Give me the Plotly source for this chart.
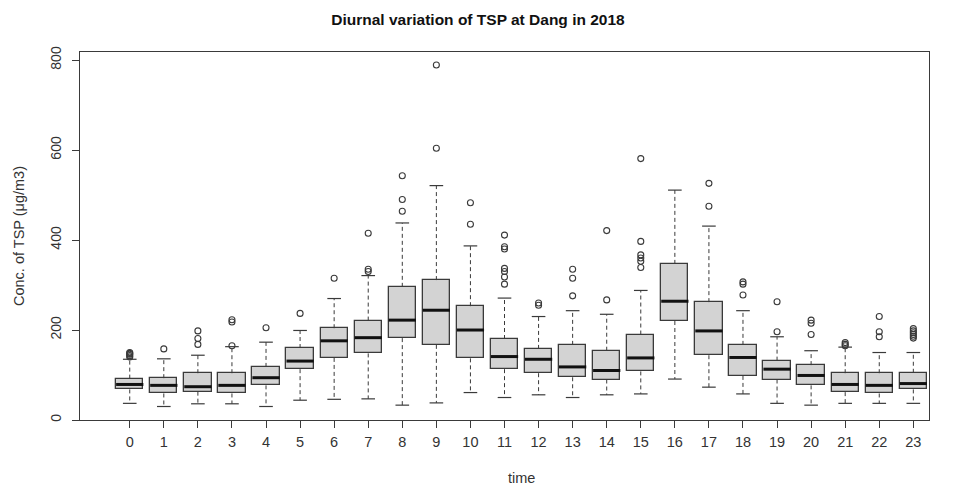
import plotly.graph_objects as go

hours = list(range(24))
tick_labels = [str(h) for h in hours]

q1 =     [68, 59, 63, 59, 77, 113, 138, 148, 182, 167, 137, 113, 104, 95, 90, 108, 220, 144, 98, 90, 77, 62, 59, 68]
median = [79, 77, 74, 77, 94, 131, 176, 183, 222, 244, 200, 141, 135, 118, 110, 138, 264, 198, 139, 113, 99, 79, 77, 81]
q3 =     [92, 93, 104, 104, 118, 160, 204, 221, 296, 311, 253, 180, 158, 167, 154, 190, 347, 262, 167, 132, 122, 104, 104, 105]
lower =  [37, 30, 36, 36, 30, 44, 46, 47, 33, 38, 61, 50, 56, 50, 56, 58, 91, 73, 58, 37, 33, 37, 37, 37]
upper =  [135, 136, 144, 163, 173, 199, 270, 321, 438, 521, 387, 271, 230, 243, 235, 288, 511, 431, 243, 185, 154, 162, 150, 150]

outliers = [
    [140, 143, 146, 148, 150],
    [158],
    [168, 181, 198],
    [165, 218, 223],
    [205],
    [237],
    [315],
    [330, 335, 415],
    [464, 490, 543],
    [604, 789],
    [435, 483],
    [302, 318, 330, 337, 380, 385, 411],
    [255, 260],
    [276, 315, 335],
    [267, 421],
    [339, 353, 360, 367, 397, 581],
    [],
    [475, 526],
    [278, 302, 307],
    [196, 263],
    [190, 215, 222],
    [165, 168, 172],
    [185, 196, 230],
    [182, 186, 190, 194, 198, 203],
]

title_text = "Diurnal variation of TSP at Dang in 2018"
x_title = "time"
y_title = "Conc. of TSP (\u03bcg/m3)"

FONT = "Liberation Sans, Arial, Helvetica, sans-serif"
EDGE = "#3a3a3a"
TEXT = "#333333"
BOX_W = 0.8
STAPLE_W = 0.4

fig = go.Figure()

# boxes (q1..q3)
fig.add_trace(go.Bar(
    x=hours, base=q1, y=[b - a for a, b in zip(q1, q3)], width=BOX_W,
    marker=dict(color="#d3d3d3", line=dict(color=EDGE, width=1.3)),
    hoverinfo="skip", showlegend=False,
))

# whiskers (dashed)
wx, wy = [], []
for h, a, b, lo, hi in zip(hours, q1, q3, lower, upper):
    wx += [h, h, None, h, h, None]
    wy += [b, hi, None, a, lo, None]
fig.add_trace(go.Scatter(x=wx, y=wy, mode="lines",
                         line=dict(color=EDGE, width=1, dash="4px,3px"),
                         hoverinfo="skip", showlegend=False))

# staples
sx, sy = [], []
for h, lo, hi in zip(hours, lower, upper):
    sx += [h - STAPLE_W / 2, h + STAPLE_W / 2, None, h - STAPLE_W / 2, h + STAPLE_W / 2, None]
    sy += [hi, hi, None, lo, lo, None]
fig.add_trace(go.Scatter(x=sx, y=sy, mode="lines",
                         line=dict(color=EDGE, width=1.2),
                         hoverinfo="skip", showlegend=False))

# medians
mx, my = [], []
for h, m in zip(hours, median):
    mx += [h - BOX_W / 2, h + BOX_W / 2, None]
    my += [m, m, None]
fig.add_trace(go.Scatter(x=mx, y=my, mode="lines",
                         line=dict(color="#111111", width=3),
                         hoverinfo="skip", showlegend=False))

# outliers
ox, oy = [], []
for h, vals in zip(hours, outliers):
    for v in vals:
        ox.append(h)
        oy.append(v)
fig.add_trace(go.Scatter(x=ox, y=oy, mode="markers",
                         marker=dict(symbol="circle-open", size=6, color=EDGE,
                                     line=dict(width=1.1, color=EDGE)),
                         hoverinfo="skip", showlegend=False))

# the page body adds an 8px offset, so margins are shifted accordingly
fig.update_layout(
    width=953, height=485,
    margin=dict(l=72, r=32, t=44, b=73, autoexpand=False),
    paper_bgcolor="white", plot_bgcolor="white",
    font=dict(family=FONT, size=14, color=TEXT),
    title=dict(text="<b>" + title_text + "</b>", x=470 / 953, xref="container", xanchor="center",
               y=1 - 12 / 485, yref="container", yanchor="middle",
               font=dict(family=FONT, size=15.5, color="#111111")),
    bargap=0,
    annotations=[dict(text=x_title, xref="paper", yref="paper",
                      x=(513 - 72) / 849, y=-58 / 368, xanchor="center", yanchor="middle",
                      showarrow=False, font=dict(size=14.5, color=TEXT))],
)

fig.update_xaxes(
    range=[-1.46, 23.46], tickmode="array", tickvals=hours, ticktext=tick_labels,
    showline=True, linecolor=EDGE, linewidth=1, mirror=True, automargin=False,
    ticks="outside", ticklen=7, tickcolor=EDGE, showgrid=False, zeroline=False,
    ticklabelstandoff=2,
    tickfont=dict(size=14.5),
)
fig.update_yaxes(
    range=[0, 818], tickvals=[0, 200, 400, 600, 800],
    showline=True, linecolor=EDGE, linewidth=1, mirror=True, automargin=False,
    ticks="outside", ticklen=7, tickcolor=EDGE, showgrid=False, zeroline=False,
    tickangle=-90, ticklabelstandoff=5,
    title=dict(text=y_title, standoff=20, font=dict(size=14.5)),
    tickfont=dict(size=14),
)

fig.write_html("out.html")
